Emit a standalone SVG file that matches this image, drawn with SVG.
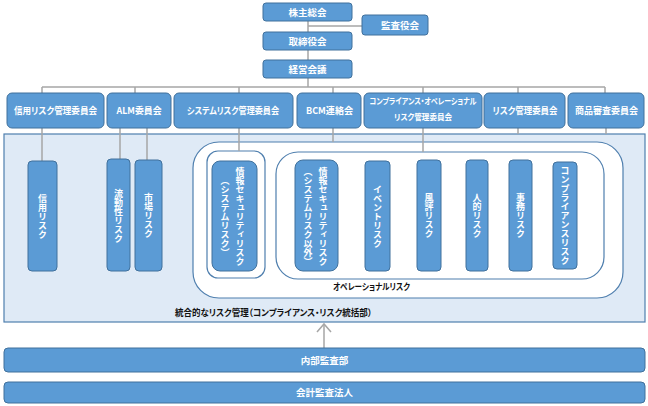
<svg xmlns="http://www.w3.org/2000/svg" width="648" height="406" viewBox="0 0 648 406">
<style>
.b{fill:#5b9bd5;stroke:#41719c;stroke-width:1}
.w{fill:#fff;font-family:"Noto Sans CJK JP","Noto Sans",sans-serif;font-weight:bold;font-size:9.5px;text-anchor:middle;font-feature-settings:"palt" 1}
.s{font-size:8.5px}
.k{fill:#111;font-family:"Noto Sans CJK JP","Noto Sans",sans-serif;font-weight:bold;font-size:9px;font-feature-settings:"palt" 1}
.v{fill:#fff;font-family:"Noto Sans CJK JP","Noto Sans",sans-serif;font-weight:bold;font-size:9px;text-anchor:middle;writing-mode:vertical-rl}
.c{stroke:#a6a6a6;stroke-width:1.5;fill:none}
.o{fill:#fff;stroke:#4f7fae;stroke-width:1.2}
</style>
<rect width="648" height="406" fill="#fff"/>
<g id="integrated">
<rect x="4" y="134" width="641" height="188" fill="#dfeaf6" stroke="#4f7fae" stroke-width="1.2"/>
<text class="k" x="175" y="316" textLength="197" lengthAdjust="spacingAndGlyphs">統合的なリスク管理（コンプライアンス・リスク統括部）</text>
</g>
<g id="operational">
<rect class="o" x="193" y="142" width="430" height="156" rx="26"/>
<text class="k" x="333" y="290" textLength="77" lengthAdjust="spacingAndGlyphs">オペレーショナルリスク</text>
</g>
<g id="sysgroup"><rect class="o" x="207" y="151" width="58" height="127" rx="11"/></g>
<g id="othergroup"><rect class="o" x="276" y="152" width="328" height="127" rx="22"/></g>
<g id="connectors">
<line class="c" x1="308" y1="21" x2="308" y2="87"/>
<line class="c" x1="308" y1="26" x2="362" y2="26"/>
<line class="c" x1="42" y1="87" x2="605" y2="87"/>
<line class="c" x1="42" y1="87" x2="42" y2="93"/>
<line class="c" x1="135" y1="87" x2="135" y2="93"/>
<line class="c" x1="239" y1="87" x2="239" y2="93"/>
<line class="c" x1="333" y1="87" x2="333" y2="93"/>
<line class="c" x1="423" y1="87" x2="423" y2="93"/>
<line class="c" x1="518" y1="87" x2="518" y2="93"/>
<line class="c" x1="605" y1="87" x2="605" y2="93"/>
<line class="c" x1="42" y1="128" x2="42" y2="161"/>
<line class="c" x1="120" y1="128" x2="120" y2="159"/>
<line class="c" x1="147" y1="128" x2="147" y2="160"/>
<line class="c" x1="239" y1="128" x2="239" y2="151"/>
<line class="c" x1="333" y1="128" x2="333" y2="142"/>
<line class="c" x1="423" y1="128" x2="423" y2="152"/>
<line class="c" x1="518" y1="128" x2="518" y2="134"/>
<line class="c" x1="606" y1="128" x2="606" y2="134"/>
<line class="c" x1="324" y1="348" x2="324" y2="324" stroke-width="2"/>
<polyline class="c" points="317,332 324,324 331,332" stroke-width="2"/>
</g>
<g id="shareholders"><rect class="b" x="263" y="3" width="89" height="18" rx="3"/><text class="w" x="307.5" y="15.5">株主総会</text></g>
<g id="auditors"><rect class="b" x="362" y="15" width="66" height="20" rx="3"/><text class="w" x="400" y="28.5">監査役会</text></g>
<g id="board"><rect class="b" x="263" y="32" width="89" height="18" rx="3"/><text class="w" x="307.5" y="44.5">取締役会</text></g>
<g id="mgmt"><rect class="b" x="263" y="60" width="89" height="18" rx="3"/><text class="w" x="307.5" y="72.5">経営会議</text></g>
<g id="c1"><rect class="b" x="7" y="93" width="97" height="35" rx="5"/><text class="w" x="55.5" y="114" textLength="83" lengthAdjust="spacingAndGlyphs">信用リスク管理委員会</text></g>
<g id="c2"><rect class="b" x="107" y="93" width="64" height="35" rx="5"/><text class="w" x="139" y="114" textLength="45" lengthAdjust="spacingAndGlyphs">ALM委員会</text></g>
<g id="c3"><rect class="b" x="174" y="93" width="119" height="35" rx="5"/><text class="w" x="233" y="114" textLength="92" lengthAdjust="spacingAndGlyphs">システムリスク管理委員会</text></g>
<g id="c4"><rect class="b" x="297" y="93" width="64" height="35" rx="5"/><text class="w" x="329.5" y="114" textLength="47" lengthAdjust="spacingAndGlyphs">BCM連絡会</text></g>
<g id="c5"><rect class="b" x="364" y="93" width="118" height="35" rx="5"/><text class="w s" x="423" y="104" textLength="107" lengthAdjust="spacingAndGlyphs">コンプライアンス・オペレーショナル</text><text class="w s" x="423" y="120" textLength="58" lengthAdjust="spacingAndGlyphs">リスク管理委員会</text></g>
<g id="c6"><rect class="b" x="484" y="93" width="81" height="35" rx="5"/><text class="w" x="525" y="114" textLength="65" lengthAdjust="spacingAndGlyphs">リスク管理委員会</text></g>
<g id="c7"><rect class="b" x="568" y="93" width="76" height="35" rx="5"/><text class="w" x="606.5" y="114" textLength="63" lengthAdjust="spacingAndGlyphs">商品審査委員会</text></g>
<g id="r1"><rect class="b" x="28" y="161" width="29" height="110" rx="4"/><text class="v" x="42.5" y="217">信用リスク</text></g>
<g id="r2"><rect class="b" x="107" y="159" width="23" height="112" rx="4"/><text class="v" x="118.5" y="216">流動性リスク</text></g>
<g id="r3"><rect class="b" x="135" y="160" width="27" height="111" rx="4"/><text class="v" x="148.5" y="216">市場リスク</text></g>
<g id="r4"><rect class="b" x="212" y="161" width="45" height="110" rx="8"/><text class="v" x="240" y="217">情報セキュリティリスク</text><text class="v" x="225" y="217">（システムリスク）</text></g>
<g id="r5"><rect class="b" x="295" y="160" width="43" height="111" rx="8"/><text class="v" x="323" y="217">情報セキュリティリスク</text><text class="v" x="308" y="217">（システムリスク以外）</text></g>
<g id="r6"><rect class="b" x="365" y="161" width="25" height="110" rx="4"/><text class="v" x="377.5" y="217">イベントリスク</text></g>
<g id="r7"><rect class="b" x="417" y="160" width="24" height="111" rx="4"/><text class="v" x="429" y="216">風評リスク</text></g>
<g id="r8"><rect class="b" x="466" y="160" width="22" height="111" rx="4"/><text class="v" x="477" y="216">人的リスク</text></g>
<g id="r9"><rect class="b" x="509" y="160" width="23" height="111" rx="4"/><text class="v" x="520.5" y="216">事務リスク</text></g>
<g id="r10"><rect class="b" x="553" y="162" width="24" height="107" rx="4"/><text class="v" x="565" y="216">コンプライアンスリスク</text></g>
<g id="internal"><rect class="b" x="4" y="348" width="641" height="24" rx="4"/><text class="w" x="324.5" y="363.5">内部監査部</text></g>
<g id="external"><rect class="b" x="4" y="382" width="641" height="21" rx="4"/><text class="w" x="324.5" y="396">会計監査法人</text></g>
</svg>
